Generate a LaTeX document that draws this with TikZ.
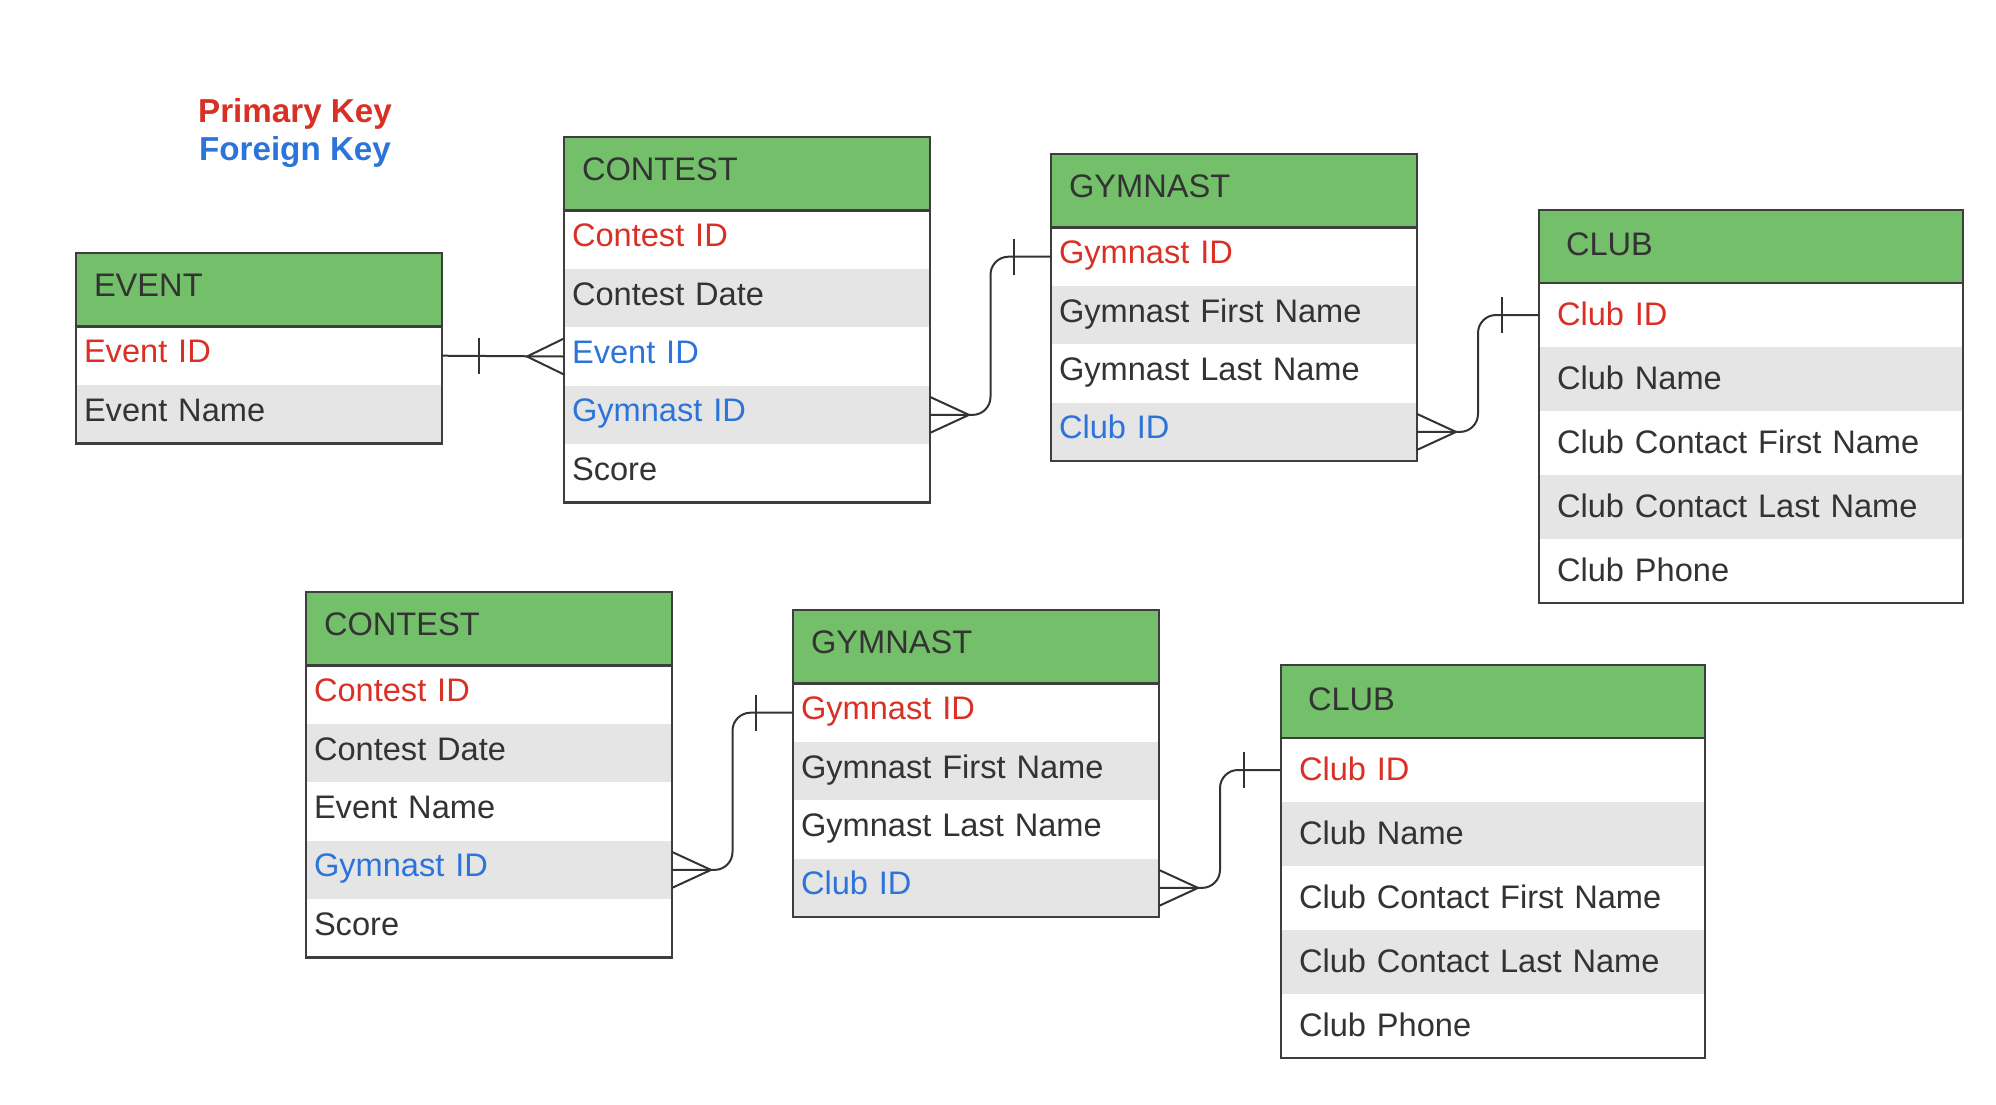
\documentclass[tikz,border=0pt]{standalone}
\usepackage{fontspec}
\setmainfont{Liberation Sans}
\usepackage{xcolor}
\usetikzlibrary{positioning}
\usetikzlibrary{calc}
\definecolor{hd}{RGB}{115, 191, 106}
\definecolor{gr}{RGB}{229, 229, 229}
\definecolor{ln}{RGB}{62, 62, 62}
\definecolor{tx}{RGB}{51, 51, 51}
\definecolor{pk}{RGB}{217, 48, 37}
\definecolor{fk}{RGB}{45, 116, 218}

\begin{document}
\begin{tikzpicture}[x=1pt, y=-1pt, node distance=0pt,
        every node/.style={outer sep=0pt, text=tx, font=\fontsize{32.6}{38}\selectfont},
        hdr/.style={fill=hd, anchor=north west, minimum height=73.5pt, inner ysep=0pt, inner xsep=18pt, text width=330pt, align=left, text height=23pt, text depth=9pt},
        row/.style={minimum height=58.4pt, inner ysep=0pt, inner xsep=8pt, text width=350pt, align=left, text height=23pt, text depth=9pt},
        whdr/.style={hdr, minimum height=73pt, inner xsep=27pt, text width=370pt, text depth=5pt},
        wrow/.style={row, minimum height=64pt, inner xsep=18pt, text width=388pt, text depth=3pt},
        shade/.style={fill=gr},
        frame/.style={draw=ln, line width=2.6pt},
        rel/.style={draw=tx, line width=2pt},
        legend/.style={anchor=base, font=\bfseries\fontsize{33.2}{38}\selectfont}]
    \useasboundingbox (0,0) rectangle (1996,1104);

    \node[legend, text=pk] (pkey) at (295,122) {Primary Key};
    \node[legend, text=fk] (fkey) at (295,160) {Foreign Key};

    % top row of tables
    \node[hdr] (evh) at (76,253) {EVENT};
    \node[row, below=of evh, text=pk] (ev1) {Event ID};
    \node[row, shade, below=of ev1] (ev2) {Event Name};
    \draw[frame] (evh.north west) rectangle (ev2.south east) (evh.south west) -- (evh.south east);

    \node[hdr] (cth) at (564,137) {CONTEST};
    \node[row, below=of cth, text=pk] (ct1) {Contest ID};
    \node[row, shade, below=of ct1] (ct2) {Contest Date};
    \node[row, below=of ct2, text=fk] (ct3) {Event ID};
    \node[row, shade, below=of ct3, text=fk] (ct4) {Gymnast ID};
    \node[row, below=of ct4] (ct5) {Score};
    \draw[frame] (cth.north west) rectangle (ct5.south east) (cth.south west) -- (cth.south east);

    \node[hdr] (gyh) at (1051,154) {GYMNAST};
    \node[row, below=of gyh, text=pk] (gy1) {Gymnast ID};
    \node[row, shade, below=of gy1] (gy2) {Gymnast First Name};
    \node[row, below=of gy2] (gy3) {Gymnast Last Name};
    \node[row, shade, below=of gy3, text=fk] (gy4) {Club ID};
    \draw[frame] (gyh.north west) rectangle (gy4.south east) (gyh.south west) -- (gyh.south east);

    \node[whdr] (clh) at (1539,210) {CLUB};
    \node[wrow, below=of clh, text=pk] (cl1) {Club ID};
    \node[wrow, shade, below=of cl1] (cl2) {Club Name};
    \node[wrow, below=of cl2] (cl3) {Club Contact First Name};
    \node[wrow, shade, below=of cl3] (cl4) {Club Contact Last Name};
    \node[wrow, below=of cl4] (cl5) {Club Phone};
    \draw[frame] (clh.north west) rectangle (cl5.south east) (clh.south west) -- (clh.south east);

    % bottom row of tables
    \node[hdr] (bcth) at (306,592) {CONTEST};
    \node[row, below=of bcth, text=pk] (bct1) {Contest ID};
    \node[row, shade, below=of bct1] (bct2) {Contest Date};
    \node[row, below=of bct2] (bct3) {Event Name};
    \node[row, shade, below=of bct3, text=fk] (bct4) {Gymnast ID};
    \node[row, below=of bct4] (bct5) {Score};
    \draw[frame] (bcth.north west) rectangle (bct5.south east) (bcth.south west) -- (bcth.south east);

    \node[hdr] (bgyh) at (793,610) {GYMNAST};
    \node[row, below=of bgyh, text=pk] (bgy1) {Gymnast ID};
    \node[row, shade, below=of bgy1] (bgy2) {Gymnast First Name};
    \node[row, below=of bgy2] (bgy3) {Gymnast Last Name};
    \node[row, shade, below=of bgy3, text=fk] (bgy4) {Club ID};
    \draw[frame] (bgyh.north west) rectangle (bgy4.south east) (bgyh.south west) -- (bgyh.south east);

    \node[whdr] (bclh) at (1281,665) {CLUB};
    \node[wrow, below=of bclh, text=pk] (bcl1) {Club ID};
    \node[wrow, shade, below=of bcl1] (bcl2) {Club Name};
    \node[wrow, below=of bcl2] (bcl3) {Club Contact First Name};
    \node[wrow, shade, below=of bcl3] (bcl4) {Club Contact Last Name};
    \node[wrow, below=of bcl4] (bcl5) {Club Phone};
    \draw[frame] (bclh.north west) rectangle (bcl5.south east) (bclh.south west) -- (bclh.south east);

    % relationships: one bar, crow's foot
    \draw[rel] (ev1.east) -- (ct3.west);
    \draw[rel] (ev1.east) ++(37,-18) -- ++(0,36);
    \draw[rel] (ct3.west) ++(0,-18) -- ++(-37,18) -- ++(37,18);

    \draw[rel, rounded corners=18pt] (ct4.east) -| ($(ct4.east)!.5!(gy1.west)$) |- (gy1.west);
    \draw[rel] (ct4.east) ++(0,-18) -- ++(39,18) -- ++(-39,18);
    \draw[rel] (gy1.west) ++(-37,-18) -- ++(0,36);

    \draw[rel, rounded corners=18pt] (gy4.east) -| ($(gy4.east)!.5!(cl1.west)$) |- (cl1.west);
    \draw[rel] (gy4.east) ++(0,-18) -- ++(39,18) -- ++(-39,18);
    \draw[rel] (cl1.west) ++(-37,-18) -- ++(0,36);

    \draw[rel, rounded corners=18pt] (bct4.east) -| ($(bct4.east)!.5!(bgy1.west)$) |- (bgy1.west);
    \draw[rel] (bct4.east) ++(0,-18) -- ++(39,18) -- ++(-39,18);
    \draw[rel] (bgy1.west) ++(-37,-18) -- ++(0,36);

    \draw[rel, rounded corners=18pt] (bgy4.east) -| ($(bgy4.east)!.5!(bcl1.west)$) |- (bcl1.west);
    \draw[rel] (bgy4.east) ++(0,-18) -- ++(39,18) -- ++(-39,18);
    \draw[rel] (bcl1.west) ++(-37,-18) -- ++(0,36);
\end{tikzpicture}
\end{document}
